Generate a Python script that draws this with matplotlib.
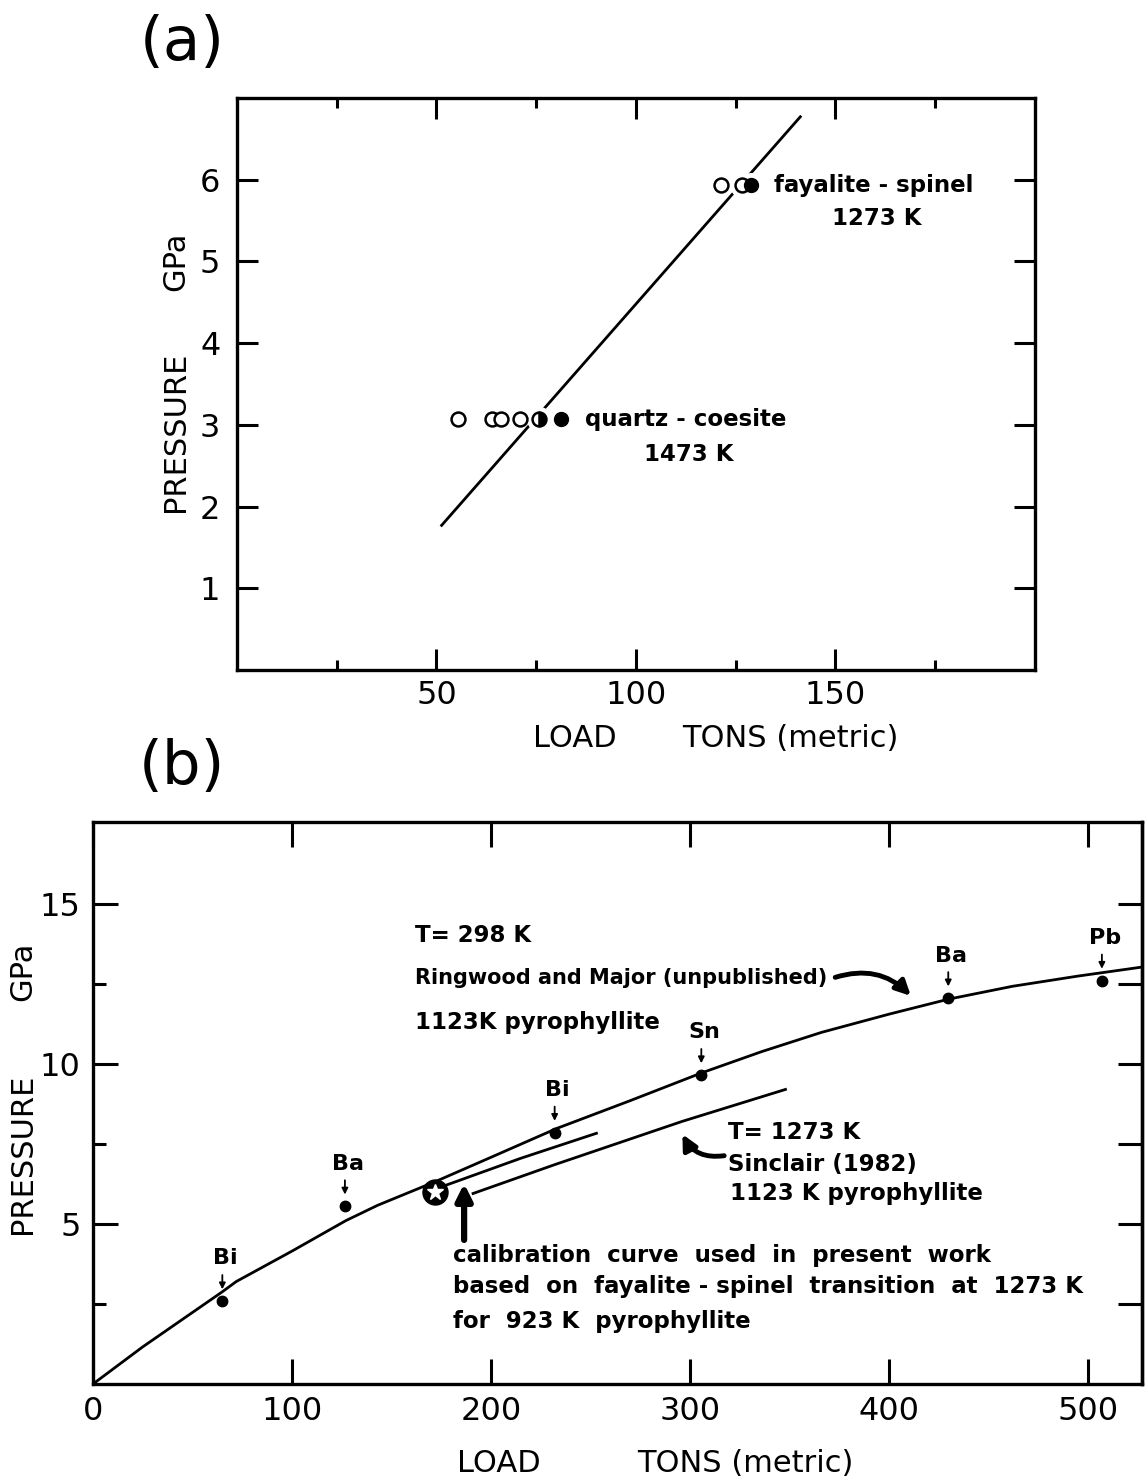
import matplotlib
matplotlib.use("Agg")
import matplotlib.pyplot as plt

plt.rcParams['font.family'] = ['DejaVu Sans']

# (a) calibration runs
quartz_open_x = [55.5, 64.0, 66.2, 71.0]
quartz_half_x = [75.6]
quartz_full_x = [81.3]
quartz_p = 3.07
fayalite_open_x = [121.4, 126.6]
fayalite_full_x = [128.8]
fayalite_p = 5.93
fit_load = [51.3, 141.2]
fit_pressure = [1.77, 6.77]

# (b) load-pressure curves
ringwood_load = [0, 25, 65, 72, 100, 127, 143, 172, 200, 233, 270, 306, 336, 366, 400, 430, 462, 495, 527]
ringwood_p = [0, 1.16, 2.88, 3.2, 4.15, 5.1, 5.58, 6.32, 7.08, 7.98, 8.85, 9.72, 10.38, 10.98, 11.55,
              12.02, 12.42, 12.74, 13.02]
present_load = [177, 215, 253]
present_p = [6.2, 7.05, 7.83]
sinclair_load = [191, 232, 296, 348]
sinclair_p = [5.95, 6.85, 8.2, 9.2]
fixed_names = ['Bi', 'Ba', 'Bi', 'Sn', 'Ba', 'Pb']
fixed_load = [65, 126.6, 232, 305.7, 429.8, 507]
fixed_p = [2.59, 5.55, 7.85, 9.65, 12.05, 12.6]
star_load = 172
star_p = 6.0

fig = plt.figure(figsize=(11.48, 14.78), dpi=100)
ax1 = fig.add_axes([0.2064, 0.5467, 0.6951, 0.3870])
ax2 = fig.add_axes([0.0810, 0.0636, 0.9135, 0.3802])

lw_spine = 2.4
tick_fs = 23
note = dict(fontsize=16.5, fontweight='bold', va='center', ha='left')

# ---------- (a) ----------
ax1.plot(fit_load, fit_pressure, color='k', lw=2.0, zorder=1)
# white halo so the line stops short of the symbols it crosses
ax1.plot(quartz_half_x, [quartz_p], 'o', ms=17, color='white', zorder=2)
ax1.plot(fayalite_open_x[1:] + fayalite_full_x, [fayalite_p] * 2, 'o', ms=17, color='white', zorder=2)

ax1.plot(quartz_open_x, [quartz_p] * len(quartz_open_x), 'o', ms=10, mfc='white', mec='k', mew=1.8, zorder=3)
ax1.plot(quartz_half_x, [quartz_p], 'o', ms=10, fillstyle='right', mfc='k', mfcalt='white', mec='k', mew=1.8, zorder=3)
ax1.plot(quartz_full_x, [quartz_p], 'o', ms=10, color='k', zorder=3)
ax1.plot(fayalite_open_x, [fayalite_p] * len(fayalite_open_x), 'o', ms=10, mfc='white', mec='k', mew=1.8, zorder=3)
ax1.plot(fayalite_full_x, [fayalite_p], 'o', ms=10, color='k', zorder=4)

ax1.text(87.2, quartz_p, 'quartz - coesite', **note)
ax1.text(102.0, 2.64, '1473 K', **note)
ax1.text(134.5, fayalite_p, 'fayalite - spinel', **note)
ax1.text(149.2, 5.53, '1273 K', **note)

ax1.set_xlim(0, 200)
ax1.set_ylim(0, 7)
ax1.set_xticks([50, 100, 150])
ax1.set_xticks([25, 75, 125, 175], minor=True)
ax1.set_yticks([1, 2, 3, 4, 5, 6])
ax1.tick_params(which='major', direction='in', length=15, width=2.2, top=True, right=True,
                labelsize=tick_fs, pad=7)
ax1.tick_params(axis='y', which='major', pad=12)
ax1.tick_params(which='minor', direction='in', length=7, width=2.2, top=True, right=True)
for s in ax1.spines.values():
    s.set_linewidth(lw_spine)

ax1.text(-0.077, 2.92, 'PRESSURE', rotation=90, fontsize=22, ha='center', va='center',
         transform=ax1.get_yaxis_transform())
ax1.text(-0.077, 5.0, 'GPa', rotation=90, fontsize=22, ha='center', va='center',
         transform=ax1.get_yaxis_transform())
ax1.text(84.7, -0.119, 'LOAD', fontsize=22, ha='center', va='center',
         transform=ax1.get_xaxis_transform())
ax1.text(138.6, -0.119, 'TONS (metric)', fontsize=22, ha='center', va='center',
         transform=ax1.get_xaxis_transform())
fig.text(182 / 1148, 1 - 44 / 1478, '(a)', fontsize=44, ha='center', va='center')

# ---------- (b) ----------
ax2.plot(ringwood_load, ringwood_p, color='k', lw=2.0, zorder=1)
ax2.plot(present_load, present_p, color='k', lw=2.0, zorder=1)
ax2.plot(sinclair_load, sinclair_p, color='k', lw=2.0, zorder=1)
ax2.plot(fixed_load, fixed_p, 'o', ms=7.5, color='k', zorder=3)
ax2.plot([star_load], [star_p], 'o', ms=18, color='k', zorder=3)
ax2.plot([star_load], [star_p], '*', ms=12, mfc='white', mec='white', zorder=4)

for name, x, y in zip(fixed_names, fixed_load, fixed_p):
    ax2.annotate('', xy=(x, y + 0.28), xytext=(x, y + 0.9),
                 arrowprops=dict(arrowstyle='-|>', color='k', lw=1.3, mutation_scale=9))
    ax2.text(x + 1.5, y + 1.33, name, fontsize=16, fontweight='bold', ha='center', va='center')

ax2.text(161.8, 14.0, 'T= 298 K', **note)
ax2.text(161.8, 12.68, 'Ringwood and Major (unpublished)', **{**note, 'fontsize': 15})
ax2.text(161.8, 11.3, '1123K pyrophyllite', **note)
ax2.annotate('', xy=(411, 12.12), xytext=(373, 12.7),
             arrowprops=dict(arrowstyle='-|>', color='k', lw=3.5, mutation_scale=22,
                             connectionstyle='arc3,rad=-0.3', shrinkA=0, shrinkB=0))

ax2.text(319, 7.85, 'T= 1273 K', **note)
ax2.text(319, 6.86, 'Sinclair (1982)', **note)
ax2.text(320, 5.94, '1123 K pyrophyllite', **note)
ax2.annotate('', xy=(296.2, 7.8), xytext=(317.2, 7.13),
             arrowprops=dict(arrowstyle='-|>', color='k', lw=3.5, mutation_scale=22,
                             connectionstyle='arc3,rad=-0.35', shrinkA=0, shrinkB=0))

ax2.annotate('', xy=(186.5, 6.26), xytext=(186.5, 4.5),
             arrowprops=dict(arrowstyle='-|>', color='k', lw=4.5, mutation_scale=24,
                             shrinkA=0, shrinkB=0))
ax2.text(180.9, 4.0, 'calibration  curve  used  in  present  work', **note)
ax2.text(180.9, 3.05, 'based  on  fayalite - spinel  transition  at  1273 K', **note)
ax2.text(180.9, 1.95, 'for  923 K  pyrophyllite', **note)

ax2.set_xlim(0, 527)
ax2.set_ylim(0, 17.55)
ax2.set_xticks([0, 100, 200, 300, 400, 500])
ax2.set_yticks([5, 10, 15])
ax2.set_yticks([2.5, 7.5, 12.5], minor=True)
ax2.tick_params(which='major', direction='in', length=18, width=2.2, top=True, right=False,
                labelsize=tick_fs, pad=9)
ax2.tick_params(which='minor', direction='in', length=9.5, width=2.2, right=False)
ax2r = ax2.secondary_yaxis('right')
ax2r.set_yticks([2.5, 5, 7.5, 10, 12.5, 15])
ax2r.tick_params(direction='in', length=17, width=2.2, labelright=False)
ax2r.spines['right'].set_linewidth(lw_spine)
for s in ax2.spines.values():
    s.set_linewidth(lw_spine)

ax2.text(-0.067, 7.2, 'PRESSURE', rotation=90, fontsize=22, ha='center', va='center',
         transform=ax2.get_yaxis_transform())
ax2.text(-0.067, 12.9, 'GPa', rotation=90, fontsize=22, ha='center', va='center',
         transform=ax2.get_yaxis_transform())
ax2.text(204, -0.142, 'LOAD', fontsize=22, ha='center', va='center',
         transform=ax2.get_xaxis_transform())
ax2.text(328, -0.142, 'TONS (metric)', fontsize=22, ha='center', va='center',
         transform=ax2.get_xaxis_transform())
fig.text(182 / 1148, 1 - 768 / 1478, '(b)', fontsize=44, ha='center', va='center')

fig.savefig('out.png', dpi=100)
